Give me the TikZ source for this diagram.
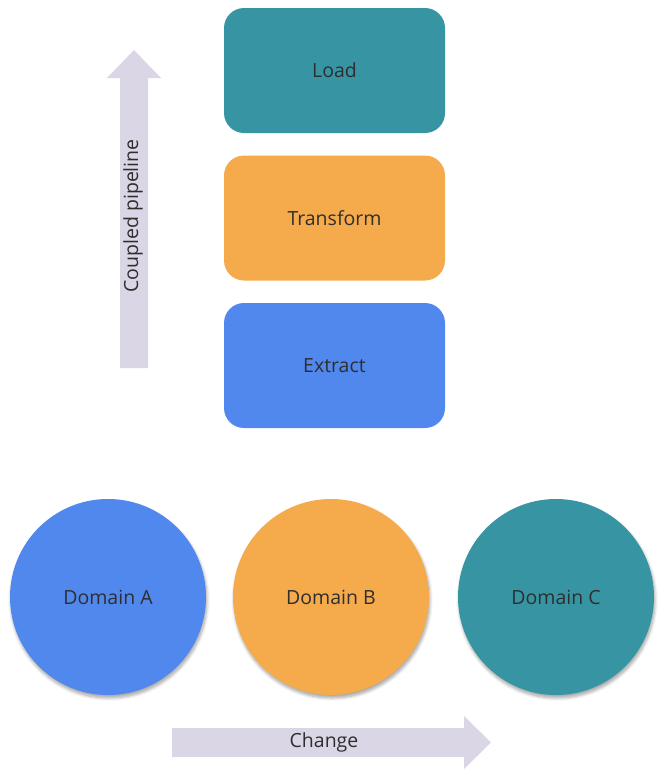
\documentclass[tikz,border=0pt]{standalone}
\usepackage{fontspec}
\setmainfont{Open Sans}
\usetikzlibrary{shadows.blur}
\definecolor{cblue}{HTML}{5088EE}
\definecolor{corange}{HTML}{F5AB4C}
\definecolor{cteal}{HTML}{3795A3}
\definecolor{carrow}{HTML}{DBD6E5}
\definecolor{ctext}{HTML}{2E2E2E}
\tikzset{
  labelfont/.style={font=\fontsize{19.5}{23}\selectfont},
  stagebox/.style={rectangle, rounded corners=20pt, minimum width=221pt, minimum height=125pt, text=ctext, labelfont},
  domaincircle/.style={circle, minimum size=196pt, inner sep=0pt, text=ctext, labelfont,
    blur shadow={shadow xshift=1pt, shadow yshift=-3pt, shadow opacity=35, shadow blur steps=6, shadow blur radius=3pt}},
  fatarrow/.style={fill=carrow, draw=none},
  arrowlabel/.style={text=ctext, labelfont, inner sep=0pt}
}
\begin{document}
\begin{tikzpicture}[x=1pt,y=-1pt]
\useasboundingbox (0,0) rectangle (659,780);
% stage boxes
\node[stagebox, fill=cteal] (load) at (334.5,70.5) {Load};
\node[stagebox, fill=corange] (transform) at (334.5,218) {Transform};
\node[stagebox, fill=cblue] (extract) at (334.5,365.5) {Extract};
% vertical arrow
\fill[fatarrow] (120,368) -- (120,78) -- (107,78) -- (134,50) -- (161,78) -- (148,78) -- (148,368) -- cycle;
\node[arrowlabel, rotate=90] (coupled) at (133,216) {Coupled pipeline};
% domains
\node[domaincircle, fill=cblue] (da) at (108,597) {Domain A};
\node[domaincircle, fill=corange] (db) at (331,597) {Domain B};
\node[domaincircle, fill=cteal] (dc) at (556,597) {Domain C};
% horizontal arrow
\fill[fatarrow] (172,728) -- (464,728) -- (464,716) -- (491,742.5) -- (464,769) -- (464,757) -- (172,757) -- cycle;
\node[arrowlabel] (change) at (324,742) {Change};
\end{tikzpicture}
\end{document}
